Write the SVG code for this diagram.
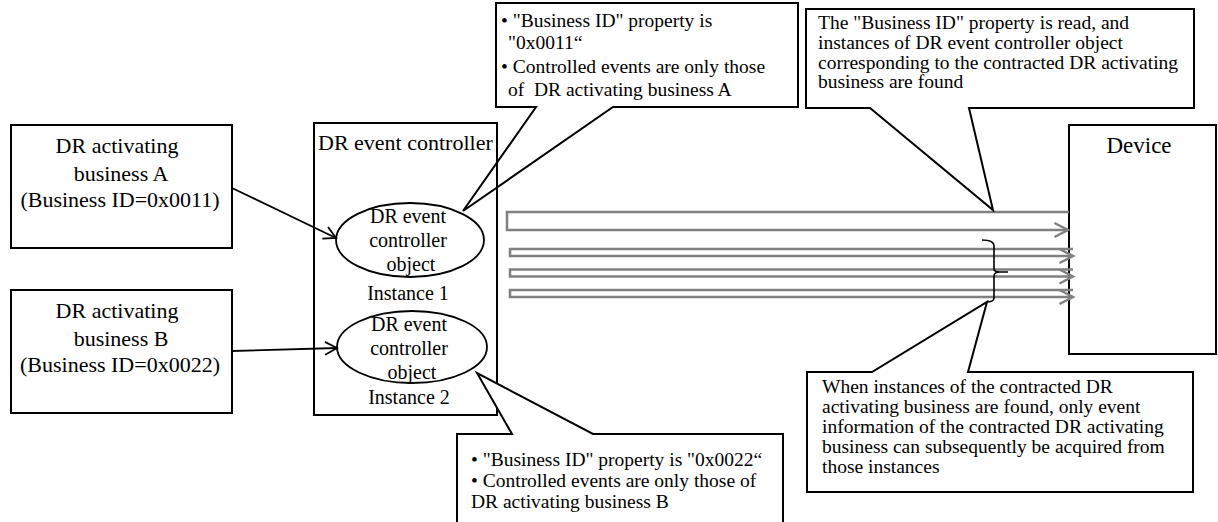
<svg xmlns="http://www.w3.org/2000/svg" width="1218" height="522" viewBox="0 0 1218 522">
<style>
  .box { fill: #ffffff; stroke: #000000; stroke-width: 2; }
  .frame { fill: none; stroke: #000000; stroke-width: 2; }
  .ell { fill: #ffffff; stroke: #000000; stroke-width: 1.8; }
  .t22 { font-family: "Liberation Serif", "Times New Roman", serif; font-size: 22px; fill: #000000; }
  .t20 { font-family: "Liberation Serif", "Times New Roman", serif; font-size: 20px; fill: #000000; }
  .t19 { font-family: "Liberation Serif", "Times New Roman", serif; font-size: 19.5px; fill: #000000; }
  .mid { text-anchor: middle; }
  .conn { fill: none; stroke: #000000; stroke-width: 1.8; }
  .flow { fill: none; stroke: #808080; stroke-width: 2.5; }
  .brace { fill: none; stroke: #000000; stroke-width: 1.6; }
</style>
<defs>
  <marker id="openArrow" markerUnits="userSpaceOnUse" markerWidth="16" markerHeight="16" viewBox="0 0 16 16" refX="13" refY="8" orient="auto">
    <path d="M1,1.5 L13,8 L1,14.5" fill="none" stroke="#000000" stroke-width="1.8"/>
  </marker>
  <marker id="grayArrow" markerUnits="userSpaceOnUse" markerWidth="18" markerHeight="18" viewBox="0 0 18 18" refX="15" refY="9" orient="auto">
    <path d="M1.5,2 L15,9 L1.5,16" fill="none" stroke="#808080" stroke-width="2.5"/>
  </marker>
</defs>
<rect width="1218" height="522" fill="#ffffff"/>

<!-- Callout A (drawn under controller frame) -->
<g id="calloutA">
  <path class="box" d="M496,3 H798 V107 H613 L463,211 L536,107 H496 Z"/>
  <text class="t19" x="501" y="27">• "Business ID" property is</text>
  <text class="t19" x="508" y="49">"0x0011“</text>
  <text class="t19" x="501" y="73">• Controlled events are only those</text>
  <text class="t19" x="508" y="96" xml:space="preserve">of  DR activating business A</text>
</g>

<g id="businessA">
  <rect class="box" x="11" y="125" width="221" height="123"/>
  <text class="t22 mid" x="117" y="153">DR activating</text>
  <text class="t22 mid" x="121" y="181">business A</text>
  <text class="t22 mid" x="120" y="207">(Business ID=0x0011)</text>
</g>

<g id="businessB">
  <rect class="box" x="11" y="290" width="221" height="123"/>
  <text class="t22 mid" x="117" y="318">DR activating</text>
  <text class="t22 mid" x="121" y="346">business B</text>
  <text class="t22 mid" x="120" y="372">(Business ID=0x0022)</text>
</g>

<g id="drEventController">
  <rect class="frame" x="314" y="123" width="183" height="292"/>
  <text class="t22" x="318" y="150">DR event controller</text>
</g>

<g id="instance1">
  <ellipse class="ell" cx="410" cy="240" rx="74" ry="37"/>
  <text class="t20 mid" x="408" y="223">DR event</text>
  <text class="t20 mid" x="408" y="247">controller</text>
  <text class="t20 mid" x="411" y="271">object</text>
  <text class="t20 mid" x="408" y="300">Instance 1</text>
</g>

<g id="instance2">
  <ellipse class="ell" cx="412" cy="347" rx="75" ry="36"/>
  <text class="t20 mid" x="409" y="331">DR event</text>
  <text class="t20 mid" x="409" y="355">controller</text>
  <text class="t20 mid" x="412" y="379">object</text>
  <text class="t20 mid" x="409" y="404">Instance 2</text>
</g>

<g id="device">
  <rect class="box" x="1069" y="125" width="147" height="229"/>
  <text class="t22 mid" x="1139" y="153" style="font-size:23px">Device</text>
</g>

<g id="connectors">
  <path class="conn" d="M232,188 L336,238" marker-end="url(#openArrow)"/>
  <path class="conn" d="M232,351 L337,348" marker-end="url(#openArrow)"/>
  <path class="flow" d="M1069,212 H507 V230 H1068" marker-end="url(#grayArrow)"/>
  <path class="flow" d="M1073,249 H510 V256 H1073" marker-end="url(#grayArrow)"/>
  <path class="flow" d="M1073,269.5 H510 V276.5 H1073" marker-end="url(#grayArrow)"/>
  <path class="flow" d="M1073,290 H510 V297 H1073" marker-end="url(#grayArrow)"/>
  <path class="brace" d="M982,240 Q994,240 994,246 L994,269 Q994,272 1000,272 L1008,272 M1000,272 Q994,272 994,276 L994,298 Q994,302 986,302"/>
</g>

<g id="calloutB">
  <path class="box" d="M457,434 H512 L477,373 L593,434 H783 V530 H457 Z"/>
  <text class="t19" x="471" y="466">• "Business ID" property is "0x0022“</text>
  <text class="t19" x="471" y="487">• Controlled events are only those of</text>
  <text class="t19" x="471" y="508">DR activating business B</text>
</g>

<g id="calloutC">
  <path class="box" d="M806,9 H1194 V108 H969 L993,210 L870,108 H806 Z"/>
  <text class="t19" x="818" y="29">The "Business ID" property is read, and</text>
  <text class="t19" x="818" y="49">instances of DR event controller object</text>
  <text class="t19" x="818" y="69">corresponding to the contracted DR activating</text>
  <text class="t19" x="818" y="88">business are found</text>
</g>

<g id="calloutD">
  <path class="box" d="M807,372 H872 L987,302 L968,372 H1193 V492 H807 Z"/>
  <text class="t19" x="822" y="393">When instances of the contracted DR</text>
  <text class="t19" x="822" y="413">activating business are found, only event</text>
  <text class="t19" x="822" y="433">information of the contracted DR activating</text>
  <text class="t19" x="822" y="453">business can subsequently be acquired from</text>
  <text class="t19" x="822" y="473">those instances</text>
</g>
</svg>
